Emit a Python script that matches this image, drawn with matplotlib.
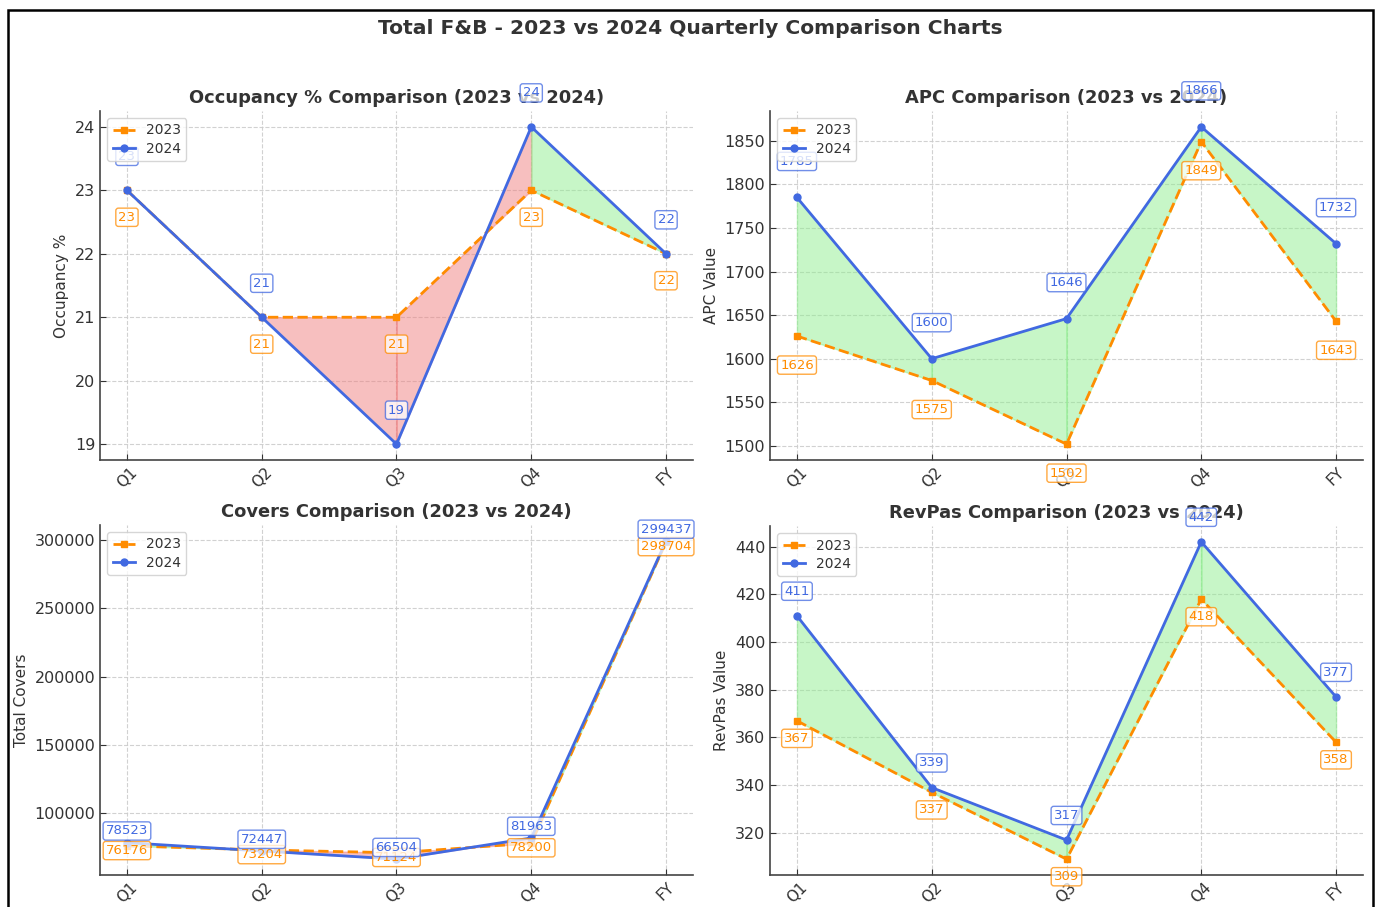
import matplotlib
matplotlib.use('Agg')
import matplotlib.pyplot as plt
import numpy as np
from matplotlib.patches import Rectangle

quarters = ['Q1', 'Q2', 'Q3', 'Q4', 'FY']

occ_2023 = [23, 21, 21, 23, 22]
occ_2024 = [23, 21, 19, 24, 22]
apc_2023 = [1626, 1575, 1502, 1849, 1643]
apc_2024 = [1785, 1600, 1646, 1866, 1732]
covers_2023 = [76176, 73204, 71124, 78200, 298704]
covers_2024 = [78523, 72447, 66504, 81963, 299437]
revpas_2023 = [367, 337, 309, 418, 358]
revpas_2024 = [411, 339, 317, 442, 377]

c23 = 'darkorange'
c24 = 'royalblue'
dark = '#333333'

plt.rcParams['font.family'] = 'DejaVu Sans'
plt.rcParams['axes.edgecolor'] = '#444444'
plt.rcParams['axes.linewidth'] = 1.2
plt.rcParams['xtick.color'] = dark
plt.rcParams['ytick.color'] = dark
plt.rcParams['xtick.direction'] = 'in'
plt.rcParams['ytick.direction'] = 'in'

W, H = 1376, 907
fig = plt.figure(figsize=(W / 100, H / 100), dpi=100)

# frame around the whole figure (bottom edge is cut off in the reference)
fig.patches.append(Rectangle((8 / W, -0.2), (1373 - 8) / W, 1.2 - 10 / H,
                             transform=fig.transFigure, fill=False,
                             edgecolor='black', linewidth=1.8))

fig.text(690 / W, 1 - 28 / H, 'Total F&B - 2023 vs 2024 Quarterly Comparison Charts',
         ha='center', va='center', fontsize=14.6, fontweight='bold', color=dark)


def make_ax(left, top, right, bottom):
    return fig.add_axes([left / W, 1 - bottom / H, (right - left) / W, (bottom - top) / H])


panels = [
    (make_ax(100, 111, 693, 460), occ_2023, occ_2024,
     'Occupancy % Comparison (2023 vs 2024)', 'Occupancy %'),
    (make_ax(770, 111, 1363, 460), apc_2023, apc_2024,
     'APC Comparison (2023 vs 2024)', 'APC Value'),
    (make_ax(100, 525, 693, 875), covers_2023, covers_2024,
     'Covers Comparison (2023 vs 2024)', 'Total Covers'),
    (make_ax(770, 526, 1363, 875), revpas_2023, revpas_2024,
     'RevPas Comparison (2023 vs 2024)', 'RevPas Value'),
]

x = np.arange(len(quarters))

for ax, y23, y24, title, ylab in panels:
    y23 = np.array(y23)
    y24 = np.array(y24)
    # shade each segment: green if 2024 ahead at the segment start, red otherwise
    for i in range(len(x) - 1):
        col = 'lightgreen' if y24[i] > y23[i] else 'lightcoral'
        ax.fill_between(x[i:i + 2], y23[i:i + 2], y24[i:i + 2], color=col, alpha=0.5, zorder=1)
    ax.plot(x, y23, color=c23, linestyle='--', marker='s', markersize=5, linewidth=2,
            label='2023', zorder=3)
    ax.plot(x, y24, color=c24, linestyle='-', marker='o', markersize=5, linewidth=2,
            label='2024', zorder=3)

    # value labels, shifted by 2% of the panel max
    off = 0.02 * max(y23.max(), y24.max())
    for xi, v in zip(x, y23):
        ax.text(xi, v - off, f'{v:.0f}', ha='center', fontsize=9.5, color=c23, zorder=4,
                bbox=dict(boxstyle='round,pad=0.2', fc='white', ec=c23, alpha=0.75))
    for xi, v in zip(x, y24):
        ax.text(xi, v + off, f'{v:.0f}', ha='center', fontsize=9.5, color=c24, zorder=4,
                bbox=dict(boxstyle='round,pad=0.2', fc='white', ec=c24, alpha=0.75))

    ax.set_title(title, fontsize=12.9, fontweight='bold', color=dark, pad=6)
    ax.set_ylabel(ylab, fontsize=11, color=dark)
    ax.set_xticks(x)
    ax.set_xticklabels(quarters, rotation=45, fontsize=11)
    ax.tick_params(axis='y', labelsize=11.5, length=4)
    ax.tick_params(axis='x', length=4)
    ax.grid(True, linestyle='--', color='#cccccc', linewidth=0.8, alpha=0.9)
    ax.set_axisbelow(True)
    for s in ['top', 'right']:
        ax.spines[s].set_visible(False)
    leg = ax.legend(loc='upper left', fontsize=10, framealpha=0.8,
                    handlelength=1.6, labelspacing=0.3)
    for t in leg.get_texts():
        t.set_color(dark)
    ax.ticklabel_format(axis='y', style='plain', useOffset=False)

fig.savefig('out.png', dpi=100)
